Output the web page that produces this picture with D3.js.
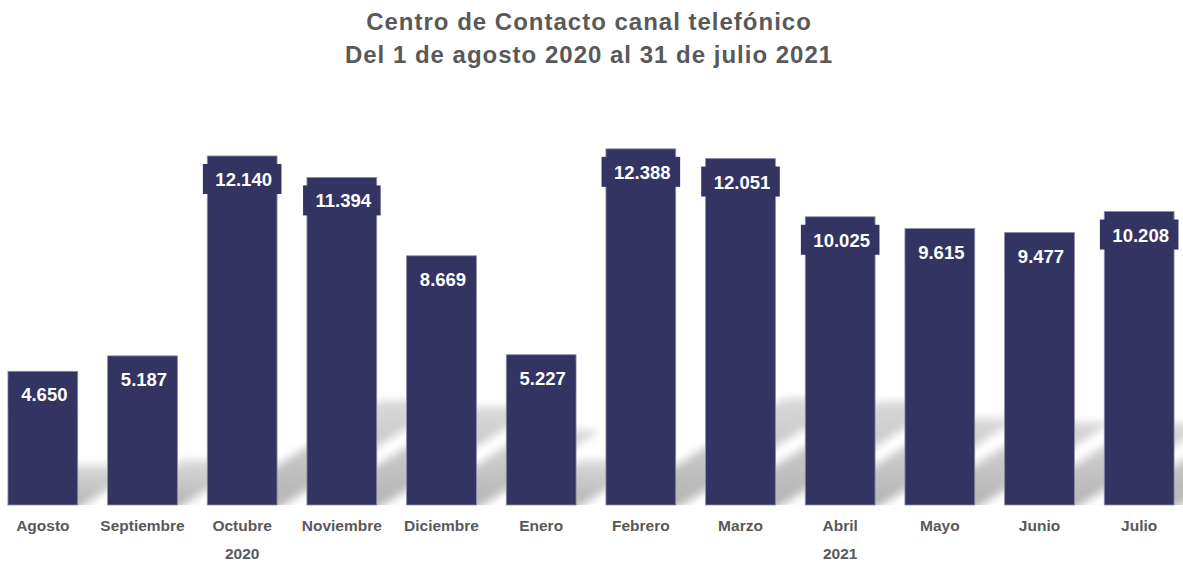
<!DOCTYPE html>
<html>
<head>
<meta charset="utf-8">
<script src="https://cdn.jsdelivr.net/npm/d3@7"></script>
<style>
  body { margin: 0; background: #fff; }
  svg { display: block; font-family: "Liberation Sans", Arial, sans-serif; }
</style>
</head>
<body>
<svg width="1183" height="562"></svg>
<script>
// data
let months = ["Agosto", "Septiembre", "Octubre", "Noviembre", "Diciembre", "Enero",
              "Febrero", "Marzo", "Abril", "Mayo", "Junio", "Julio"];
let calls = [4650, 5187, 12140, 11394, 8669, 5227, 12388, 12051, 10025, 9615, 9477, 10208];
let years = [{label: "2020", under: "Octubre"}, {label: "2021", under: "Abril"}];
let titleLines = ["Centro de Contacto canal telefónico", "Del 1 de agosto 2020 al 31 de julio 2021"];

let svg = d3.select("svg"),
    width = +svg.attr("width"),
    base = 505,
    barColor = "#343462",
    grey = "#595959";

let es = d3.formatLocale({decimal: ",", thousands: ".", grouping: [3], currency: ["", ""]});
let fmt = es.format(",d");

let data = months.map(function(m, i) { return {month: m, value: calls[i]}; });

let x = d3.scaleBand()
    .domain(months)
    .range([-7, 1189])
    .paddingInner(0.3)
    .paddingOuter(0.15);

let y = d3.scaleLinear()
    .domain([0, 14000])
    .range([base, base - 0.02875 * 14000]);

let defs = svg.append("defs");
defs.append("filter")
    .attr("id", "blur")
    .attr("x", "-50%").attr("y", "-50%")
    .attr("width", "200%").attr("height", "200%")
  .append("feGaussianBlur")
    .attr("stdDeviation", 4);
defs.append("clipPath")
    .attr("id", "above-base")
  .append("rect")
    .attr("x", 0).attr("y", 0)
    .attr("width", width).attr("height", base);
let fade = defs.append("linearGradient")
    .attr("id", "fade")
    .attr("x1", 0).attr("y1", 1)
    .attr("x2", 0).attr("y2", 0);
fade.append("stop").attr("offset", 0).attr("stop-color", "#000").attr("stop-opacity", 0.3);
fade.append("stop").attr("offset", 1).attr("stop-color", "#000").attr("stop-opacity", 0.15);

// title
svg.append("g")
    .selectAll("text")
    .data(titleLines)
    .enter().append("text")
    .attr("x", 589)
    .attr("y", function(d, i) { return 30 + i * 33; })
    .attr("text-anchor", "middle")
    .style("font-size", "24px")
    .style("font-weight", "bold")
    .style("letter-spacing", "1px")
    .style("fill", grey)
    .text(function(d) { return d; });

// long skewed soft shadows behind each bar
let k = 0.5, s = 0.3;
svg.append("g")
    .attr("clip-path", "url(#above-base)")
  .append("g")
    .attr("filter", "url(#blur)")
    .selectAll("path")
    .data(data)
    .enter().append("path")
    .attr("d", function(d) {
        let x0 = x(d.month), x1 = x0 + x.bandwidth(), h = base - y(d.value);
        return "M" + x0 + "," + (base + 4) +
               "L" + x1 + "," + (base + 4) +
               "L" + (x1 + k * h) + "," + (base - s * h) +
               "L" + (x0 + k * h) + "," + (base - s * h) + "Z";
    })
    .style("fill", "url(#fade)");

// bars
svg.append("g")
    .selectAll("rect")
    .data(data)
    .enter().append("rect")
    .attr("x", function(d) { return x(d.month); })
    .attr("y", function(d) { return y(d.value); })
    .attr("width", x.bandwidth())
    .attr("height", function(d) { return base - y(d.value); })
    .style("fill", barColor)
    .style("stroke", "#8c8cab")
    .style("stroke-width", 0.8);

// value labels with a box the colour of the bar
let label = svg.append("g")
    .selectAll("g")
    .data(data)
    .enter().append("g")
    .attr("transform", function(d) {
        return "translate(" + (x(d.month) + x.bandwidth() / 2) + "," + y(d.value) + ")";
    });

let box = label.append("rect").style("fill", barColor);

label.append("text")
    .attr("x", 1.5)
    .attr("y", 30)
    .attr("text-anchor", "middle")
    .style("font-size", "18.5px")
    .style("font-weight", "bold")
    .style("fill", "#fff")
    .text(function(d) { return fmt(d.value); })
    .each(function(d) { d.tw = this.getComputedTextLength(); });

box.attr("x", function(d) { return -(d.tw + 22) / 2; })
    .attr("y", 8)
    .attr("width", function(d) { return d.tw + 22; })
    .attr("height", 30);

// month axis
svg.append("g")
    .attr("transform", "translate(0," + base + ")")
    .call(d3.axisBottom(x).tickSize(0).tickPadding(0))
    .call(function(g) { g.select(".domain").remove(); })
    .selectAll("text")
    .attr("dy", 0)
    .attr("y", 26)
    .style("font-family", "Liberation Sans, Arial, sans-serif")
    .style("font-size", "15.5px")
    .style("font-weight", "bold")
    .style("fill", grey);

// year labels
svg.append("g")
    .selectAll("text")
    .data(years)
    .enter().append("text")
    .attr("x", function(d) { return x(d.under) + x.bandwidth() / 2; })
    .attr("y", 559)
    .attr("text-anchor", "middle")
    .style("font-size", "15.5px")
    .style("font-weight", "bold")
    .style("fill", grey)
    .text(function(d) { return d.label; });
</script>
</body>
</html>
